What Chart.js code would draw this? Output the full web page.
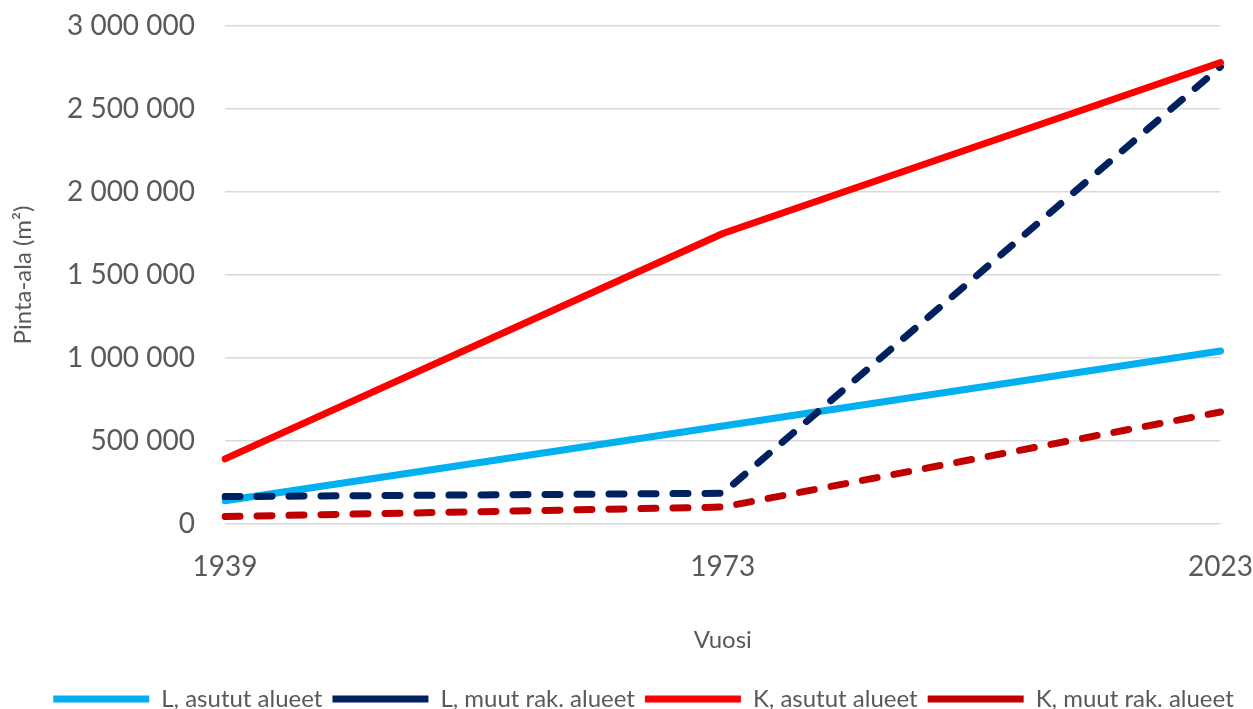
<!DOCTYPE html>
<html lang="fi">
<head>
<meta charset="utf-8">
<title>Pinta-ala</title>
<script src="https://cdn.jsdelivr.net/npm/chart.js@4/dist/chart.umd.min.js"></script>
<style>
    html, body { margin: 0; padding: 0; background: #ffffff; }
    #wrap { width: 1253px; height: 709px; position: relative; }
</style>
</head>
<body>
<div id="wrap"><canvas id="area-chart"></canvas></div>
<script>
// Data
const years = ['1939', '1973', '2023'];
const lAsututAlueet = [140000, 590000, 1042000];
const lMuutRakAlueet = [165000, 185000, 2755000];
const kAsututAlueet = [392000, 1750000, 2780000];
const kMuutRakAlueet = [45000, 102000, 675000];

const seriesNames = ['L, asutut alueet', 'L, muut rak. alueet', 'K, asutut alueet', 'K, muut rak. alueet'];
const yTicks = { min: 0, max: 3000000, step: 500000 };

const TEXT_COLOR = '#595959';
const FONT = 'Lato, "Open Sans", sans-serif';
const DASH = [15, 17];

// format 3000000 -> "3 000 000"
const formatNumber = (value) => String(value).replace(/\B(?=(\d{3})+(?!\d))/g, ' ');

const makeDataset = (label, data, color, dashed, order) => ({
    label,
    data,
    borderColor: color,
    backgroundColor: color,
    borderWidth: 7,
    borderDash: dashed ? DASH : [],
    borderCapStyle: 'round',
    borderJoinStyle: 'round',
    pointRadius: 0,
    pointHoverRadius: 0,
    tension: 0,
    fill: false,
    order
});

// later series are drawn on top, as in the original
const datasets = [
    makeDataset(seriesNames[0], lAsututAlueet, '#00B0F0', false, 3),
    makeDataset(seriesNames[1], lMuutRakAlueet, '#002060', true, 2),
    makeDataset(seriesNames[2], kAsututAlueet, '#FF0000', false, 1),
    makeDataset(seriesNames[3], kMuutRakAlueet, '#C00000', true, 0)
];

// nudge the legend a bit lower / right than Chart.js would place it
const legendShift = {
    id: 'legendShift',
    afterLayout(chart) {
        const legend = chart.legend;
        if (!legend) return;
        legend.top += 12;
        legend.bottom += 12;
        legend.left += 21;
        legend.right += 21;
    }
};

// invisible tick marks keep the labels away from the plot
// (ticks.padding would also grow the chart's outer padding)
const hiddenTicks = (length) => ({
    drawTicks: true,
    tickLength: length,
    tickColor: 'rgba(0,0,0,0)'
});

const ctx = document.getElementById('area-chart');
new Chart(ctx, {
    type: 'line',
    data: { labels: years, datasets },
    plugins: [legendShift],
    options: {
        responsive: true,
        maintainAspectRatio: false,
        animation: false,
        layout: { padding: { top: 26, right: 8, left: 0, bottom: 0 } },
        plugins: {
            tooltip: { enabled: false },
            legend: {
                position: 'bottom',
                reverse: true,
                labels: {
                    usePointStyle: true,
                    pointStyle: 'line',
                    pointStyleWidth: 96,
                    padding: 10,
                    color: TEXT_COLOR,
                    font: { family: FONT, size: 24 }
                }
            }
        },
        scales: {
            x: {
                type: 'category',
                offset: false,
                grid: { display: false, ...hiddenTicks(26) },
                border: { display: false },
                ticks: {
                    color: TEXT_COLOR,
                    font: { family: FONT, size: 28 },
                    padding: 0,
                    maxRotation: 0,
                    autoSkip: false
                },
                title: {
                    display: true,
                    text: 'Vuosi',
                    color: TEXT_COLOR,
                    font: { family: FONT, size: 24 },
                    padding: { top: 4, bottom: 10 }
                },
                afterFit: (scale) => { scale.height = 141; }
            },
            y: {
                min: yTicks.min,
                max: yTicks.max,
                grid: { color: '#D9D9D9', lineWidth: 1.5, ...hiddenTicks(30) },
                border: { display: false },
                ticks: {
                    stepSize: yTicks.step,
                    color: TEXT_COLOR,
                    font: { family: FONT, size: 28 },
                    padding: 0,
                    callback: (value) => formatNumber(value)
                },
                title: {
                    display: true,
                    text: 'Pinta-ala (m²)',
                    color: TEXT_COLOR,
                    font: { family: FONT, size: 24 },
                    padding: { top: 9, bottom: 0 }
                },
                afterFit: (scale) => { scale.width = 225; }
            }
        }
    }
});
</script>
</body>
</html>
